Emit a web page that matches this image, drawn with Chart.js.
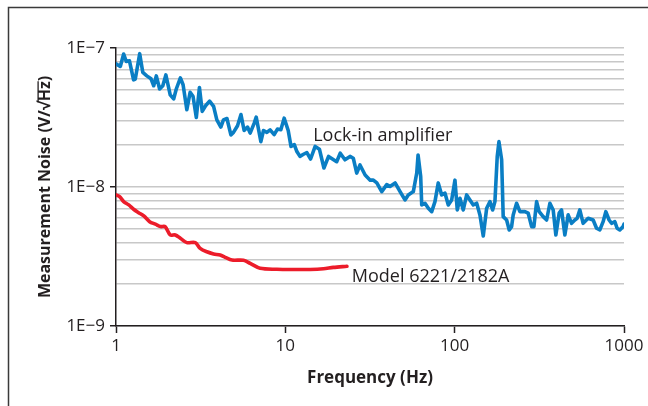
<!DOCTYPE html>
<html lang="en">

<head>
    <meta charset="UTF-8">
    <title>Measurement Noise</title>
    <script src="https://cdn.jsdelivr.net/npm/chart.js"></script>
    <style>
        html, body {
            margin: 0;
            padding: 0;
            background: #fff;
        }

        .wrap {
            position: relative;
            width: 648px;
            height: 406px;
        }
    </style>
</head>

<body>
    <div class="wrap">
        <canvas id="chart"></canvas>
    </div>

    <script>
        // lock-in amplifier trace (Hz, nV/rtHz)
        const lockinFreq = [1, 1.06, 1.11, 1.15, 1.2, 1.27, 1.3, 1.38, 1.44, 1.52,
            1.61, 1.67, 1.73, 1.81, 1.89, 1.97, 2.09, 2.19, 2.27, 2.4,
            2.49, 2.62, 2.74, 2.85, 2.98, 3.11, 3.23, 3.38, 3.57, 3.77,
            3.94, 4.16, 4.31, 4.52, 4.77, 4.94, 5.22, 5.47, 5.71, 5.98,
            6.2, 6.55, 6.73, 7.17, 7.43, 7.78, 8.13, 8.59, 8.98, 9.41,
            9.84, 10.4, 10.8, 11.3, 11.7, 12.2, 12.8, 13.4, 14.1, 15.0,
            15.9, 16.9, 18.0, 20.1, 21.1, 22.5, 24.1, 25.2, 26.4, 27.6,
            29.6, 31.7, 33.1, 34.7, 37.1, 39.7, 41.5, 44.5, 47.6, 50.9,
            53.2, 57.0, 59.7, 60.8, 63.0, 63.9, 66.8, 69.9, 73.2, 76.5,
            80.0, 83.8, 87.7, 91.7, 96.0, 100.4, 103.6, 107.5, 112.4, 117.7,
            123.1, 128.8, 134.9, 141.0, 147.5, 154.5, 161.6, 167.6, 172.9, 178.4,
            182.6, 189.4, 193.5, 202.7, 210.0, 216.9, 221.6, 232.1, 242.8, 259.8,
            271.8, 284.7, 293.7, 304.7, 315.6, 333.3, 349.1, 365.1, 381.8, 395.9,
            414.0, 427.8, 447.4, 468.0, 490.1, 512.5, 528.8, 548.5, 573.7, 614.1,
            657.4, 688.5, 719.9, 752.9, 780.9, 816.8, 843.9, 882.5, 910.6, 944.6,
            987.9, 1000];
        const lockinNoiseNV = [77, 73.7, 90.5, 80, 81, 59, 59.8, 91, 66.7, 63,
            60, 53.5, 63, 50.7, 53.5, 64, 46, 43, 50.7, 61,
            54.4, 36, 48, 45, 31.6, 52, 35, 38.4, 41.5, 38,
            30.4, 27, 30.4, 31.1, 23.7, 24.7, 27.6, 33.2, 25.5, 27,
            24.4, 28.8, 31.8, 21.2, 25.5, 24.7, 25.8, 23.8, 26.1, 25.8,
            31.3, 25.5, 19.6, 20.2, 18, 16.6, 17.2, 17.7, 15.9, 19.6,
            18.7, 13.7, 16.6, 15.2, 17.5, 15.7, 16.6, 16.1, 12.6, 14.4,
            12.2, 11.2, 11.2, 10.7, 9.27, 10.4, 10.1, 10.7, 9.27, 8.07,
            8.77, 9.27, 12.6, 17.0, 11.9, 7.43, 7.64, 7.04, 6.65, 7.85,
            10.7, 8.77, 9.02, 7.43, 8.07, 11.2, 6.84, 8.3, 6.84, 8.77,
            8.07, 7.43, 7.64, 6.3, 4.44, 7.04, 7.85, 6.84, 7.85, 16.6,
            21.2, 15.7, 6.12, 5.79, 4.91, 5.19, 6.3, 7.64, 6.65, 6.65,
            6.48, 5.19, 5.19, 7.85, 6.65, 6.12, 5.79, 7.64, 6.84, 4.52,
            6.48, 6.84, 4.52, 6.3, 5.48, 5.79, 5.96, 6.84, 5.48, 5.96,
            5.79, 5.05, 4.91, 5.63, 6.65, 5.79, 5.48, 5.63, 5.05, 4.91,
            5.19, 5.4];

        // Model 6221/2182A trace
        const modelFreq = [1, 1.05, 1.11, 1.19, 1.27, 1.36, 1.46, 1.58, 1.71, 1.83,
            1.95, 2.09, 2.24, 2.4, 2.62, 2.94, 3.14, 3.44, 3.77, 4.12,
            4.41, 4.84, 5.66, 6.2, 7.1, 8.91, 11.2, 14.0, 16.8, 19.2, 23.1];
        const modelNoiseNV = [8.77, 8.52, 7.85, 7.43, 6.92, 6.54, 6.19, 5.63, 5.4, 5.19,
            5.19, 4.52, 4.52, 4.28, 3.98, 3.98, 3.62, 3.42, 3.3, 3.24,
            3.12, 2.98, 2.97, 2.82, 2.6, 2.56, 2.55, 2.55, 2.58, 2.64, 2.69];

        const xMajor = [1, 10, 100, 1000];
        const xTickLabels = ['1', '10', '100', '1000'];
        const yMajor = [1e-9, 1e-8, 1e-7];
        const yTickLabels = ['1E\u22129', '1E\u22128', '1E\u22127'];

        const seriesLabels = [
            { text: 'Lock-in amplifier', x: 14.6, y: 2.15e-8 },
            { text: 'Model 6221/2182A', x: 24.7, y: 2.08e-9 }
        ];

        const yTitlePre = 'Measurement Noise (V/\u221A';
        const yTitleRoot = 'Hz';
        const yTitlePost = ')';

        const textColor = '#231f20';
        const font = "'Open Sans', 'Liberation Sans', sans-serif";

        // 1..9 x each decade for horizontal grid lines
        const yGrid = [];
        yMajor.forEach((d, i) => {
            if (i === yMajor.length - 1) { yGrid.push(d); return; }
            for (let k = 1; k < 10; k++) yGrid.push(+(d * k).toPrecision(3));
        });

        const isMajor = (list, v) => list.some(m => Math.abs(m - v) / m < 1e-6);

        const frame = {
            id: 'frame',
            beforeDraw(chart) {
                const c = chart.ctx;
                c.save();
                c.fillStyle = '#fff';
                c.fillRect(0, 0, chart.width, chart.height);
                c.strokeStyle = '#3a3a3a';
                c.lineWidth = 1.5;
                c.beginPath();
                c.moveTo(8.5, chart.height);
                c.lineTo(8.5, 7.5);
                c.lineTo(chart.width, 7.5);
                c.stroke();
                c.restore();
            },
            afterDraw(chart) {
                const c = chart.ctx;
                const xs = chart.scales.x, ys = chart.scales.y;
                c.save();
                c.fillStyle = textColor;
                c.font = '18px ' + font;
                c.textBaseline = 'alphabetic';
                seriesLabels.forEach(l => {
                    c.fillText(l.text, xs.getPixelForValue(l.x), ys.getPixelForValue(l.y));
                });

                // vinculum over "Hz" in the rotated y title
                const t = ys.options.title;
                c.font = 'bold 16px ' + font;
                const full = c.measureText(yTitlePre + yTitleRoot + yTitlePost).width;
                const pre = c.measureText(yTitlePre).width;
                const root = c.measureText(yTitleRoot).width;
                const lh = 16 * 1.2;
                const cx = ys.left + lh / 2 + t.padding.top;
                const start = (ys.top + ys.bottom) / 2 + full / 2;
                c.strokeStyle = textColor;
                c.lineWidth = 1.3;
                c.beginPath();
                c.moveTo(cx - 7.5, start - pre + 1);
                c.lineTo(cx - 7.5, start - pre - root);
                c.stroke();
                c.restore();
            }
        };

        const ctx = document.getElementById('chart').getContext('2d');
        new Chart(ctx, {
            type: 'line',
            data: {
                datasets: [{
                    label: 'Lock-in amplifier',
                    data: lockinFreq.map((f, i) => ({ x: f, y: lockinNoiseNV[i] * 1e-9 })),
                    borderColor: '#0a7ec4',
                    borderWidth: 3.6,
                    pointRadius: 0,
                    tension: 0,
                    borderJoinStyle: 'round',
                    borderCapStyle: 'round'
                }, {
                    label: 'Model 6221/2182A',
                    data: modelFreq.map((f, i) => ({ x: f, y: modelNoiseNV[i] * 1e-9 })),
                    borderColor: '#ec1c2a',
                    borderWidth: 3.6,
                    pointRadius: 0,
                    tension: 0.3,
                    borderJoinStyle: 'round',
                    borderCapStyle: 'round'
                }]
            },
            options: {
                responsive: true,
                maintainAspectRatio: false,
                animation: false,
                layout: { padding: { top: 48, right: 24, left: 0, bottom: 0 } },
                plugins: {
                    legend: { display: false },
                    tooltip: { enabled: false }
                },
                scales: {
                    x: {
                        type: 'logarithmic',
                        min: 1,
                        max: 1000,
                        afterBuildTicks: axis => {
                            axis.ticks = xMajor.map(v => ({ value: v }));
                        },
                        afterFit: axis => { axis.height = 80; },
                        ticks: {
                            autoSkip: false,
                            maxRotation: 0,
                            padding: 3,
                            color: textColor,
                            font: { family: font, size: 17 },
                            callback: (v) => {
                                const i = xMajor.findIndex(m => Math.abs(m - v) / m < 1e-6);
                                return i >= 0 ? xTickLabels[i] : '';
                            }
                        },
                        grid: {
                            drawOnChartArea: false,
                            tickLength: 7,
                            tickColor: textColor,
                            tickWidth: 1.5
                        },
                        border: { color: textColor, width: 1.5 },
                        title: {
                            display: true,
                            text: 'Frequency (Hz)',
                            color: textColor,
                            font: { family: font, size: 17, weight: 'bold' },
                            padding: { top: 0, bottom: 18 }
                        }
                    },
                    y: {
                        type: 'logarithmic',
                        min: 1e-9,
                        max: 1e-7,
                        afterBuildTicks: axis => {
                            axis.ticks = yGrid.map(v => ({ value: v }));
                        },
                        afterFit: axis => { axis.width = 116; },
                        ticks: {
                            autoSkip: false,
                            padding: 5,
                            color: textColor,
                            font: { family: font, size: 17 },
                            callback: (v) => {
                                const i = yMajor.findIndex(m => Math.abs(m - v) / m < 1e-6);
                                return i >= 0 ? yTickLabels[i] : '';
                            }
                        },
                        grid: {
                            color: '#c8c8c8',
                            lineWidth: 1.5,
                            tickLength: 6,
                            tickWidth: 1.5,
                            tickColor: c => isMajor(yMajor, c.tick.value) ? textColor : 'rgba(0,0,0,0)'
                        },
                        border: { color: textColor, width: 1.5 },
                        title: {
                            display: true,
                            text: yTitlePre + yTitleRoot + yTitlePost,
                            color: textColor,
                            font: { family: font, size: 16, weight: 'bold' },
                            padding: { top: 36, bottom: 0 }
                        }
                    }
                }
            },
            plugins: [frame]
        });
    </script>
</body>

</html>
